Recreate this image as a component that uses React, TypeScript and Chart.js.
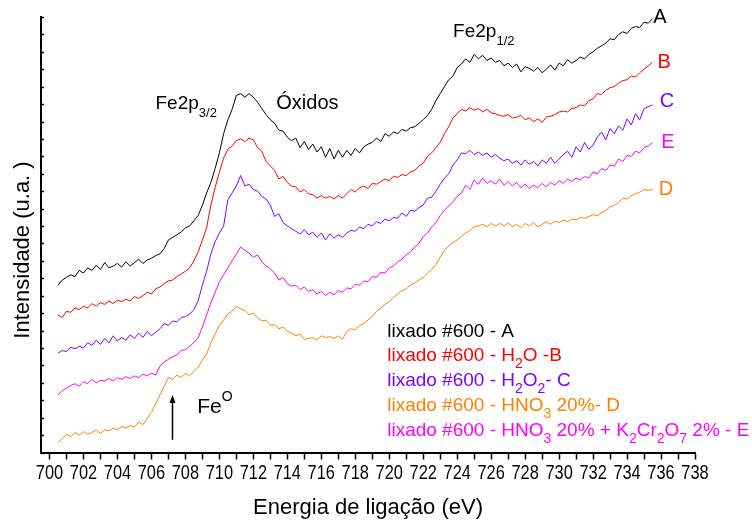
import React, { useEffect, useRef } from 'react';
import { Chart, registerables } from 'chart.js';

Chart.register(...registerables);

// Binding energy grid (eV)
const ENERGY = [
  700.5, 700.75, 701, 701.25,
  701.5, 701.75, 702, 702.25,
  702.5, 702.75, 703, 703.25,
  703.5, 703.75, 704, 704.25,
  704.5, 704.75, 705, 705.25,
  705.5, 705.75, 706, 706.25,
  706.5, 706.75, 707, 707.25,
  707.5, 707.75, 708, 708.25,
  708.5, 708.75, 709, 709.25,
  709.5, 709.75, 710, 710.25,
  710.5, 710.75, 711, 711.25,
  711.5, 711.75, 712, 712.25,
  712.5, 712.75, 713, 713.25,
  713.5, 713.75, 714, 714.25,
  714.5, 714.75, 715, 715.25,
  715.5, 715.75, 716, 716.25,
  716.5, 716.75, 717, 717.25,
  717.5, 717.75, 718, 718.25,
  718.5, 718.75, 719, 719.25,
  719.5, 719.75, 720, 720.25,
  720.5, 720.75, 721, 721.25,
  721.5, 721.75, 722, 722.25,
  722.5, 722.75, 723, 723.25,
  723.5, 723.75, 724, 724.25,
  724.5, 724.75, 725, 725.25,
  725.5, 725.75, 726, 726.25,
  726.5, 726.75, 727, 727.25,
  727.5, 727.75, 728, 728.25,
  728.5, 728.75, 729, 729.25,
  729.5, 729.75, 730, 730.25,
  730.5, 730.75, 731, 731.25,
  731.5, 731.75, 732, 732.25,
  732.5, 732.75, 733, 733.25,
  733.5, 733.75, 734, 734.25,
  734.5, 734.75, 735, 735.25,
  735.5,
];

// A: lixado #600
const SERIES_A = [
  9.6, 9.9, 10.05, 10.2,
  10.1, 10.45, 10.3, 10.6,
  10.45, 10.75, 10.5, 10.9,
  10.6, 10.7, 10.85, 10.65,
  10.95, 10.7, 10.9, 11.1,
  10.85, 11.05, 11.15, 11.3,
  11.4, 11.7, 12.2, 12.35,
  12.5, 12.65, 12.9, 13.0,
  13.3, 13.6, 14.2, 14.9,
  15.5, 16.3, 17.2, 18.3,
  19.1, 19.7, 20.5, 20.6,
  20.4, 20.6, 20.4, 20.1,
  19.75, 19.4, 19.1, 18.9,
  18.5, 18.45, 18.1, 17.9,
  18.05, 17.5, 17.85, 17.4,
  17.7, 17.25, 17.55, 16.95,
  17.45, 16.85, 17.35, 16.95,
  17.35, 17.05, 17.45, 17.2,
  17.55, 17.7, 17.8, 18.05,
  17.85, 18.3, 18.15, 18.4,
  18.3, 18.55, 18.45, 18.65,
  18.7, 18.9, 19.1, 19.35,
  19.7, 20.2, 20.6, 21.0,
  21.4, 21.6, 22.1, 22.3,
  22.6, 22.4, 22.85, 22.6,
  22.8, 22.5, 22.65, 22.4,
  22.5, 22.2, 22.35, 22.1,
  22.3, 21.85, 22.15, 22.05,
  21.9, 22.1, 21.8, 22.0,
  22.25, 21.95, 22.35, 22.2,
  22.55, 22.35, 22.5, 22.7,
  22.6, 22.85, 23.0, 23.2,
  23.35, 23.5, 23.75, 23.7,
  24.0, 24.15, 24.05, 24.35,
  24.45, 24.4, 24.7, 24.65,
  24.9,
];

// B: lixado #600 - H2O
const SERIES_B = [
  7.9, 7.75, 8.1, 8.05,
  8.3, 8.2, 8.4, 8.3,
  8.55, 8.4, 8.6, 8.5,
  8.7, 8.55, 8.75, 8.65,
  8.8, 8.7, 8.95, 8.85,
  9.0, 9.2, 9.1, 9.4,
  9.5, 9.7, 9.85, 9.9,
  10.1, 10.25, 10.4, 10.6,
  11.0, 11.5, 12.2, 12.9,
  14.2, 15.2, 16.1, 16.9,
  17.4, 17.6, 17.9, 18.0,
  17.85, 18.05, 17.95, 17.5,
  17.3, 16.7, 16.45, 16.2,
  15.7, 15.85, 15.5, 15.3,
  15.25, 14.95, 15.1, 14.85,
  14.8, 14.6, 14.75, 14.6,
  14.7, 14.55, 14.75, 14.6,
  14.85, 15.1, 14.95, 15.2,
  15.3, 15.15, 15.45, 15.4,
  15.55, 15.7, 15.6, 15.85,
  15.8, 15.95, 15.9, 16.1,
  16.2, 16.45, 16.6, 17.0,
  17.2, 17.5, 17.8, 18.3,
  18.7, 19.2, 19.45, 19.7,
  19.6, 19.8, 19.65, 19.75,
  19.55, 19.7, 19.5, 19.45,
  19.35, 19.3, 19.4, 19.2,
  19.25, 19.35, 19.1, 19.2,
  19.0, 19.15, 18.95, 19.25,
  19.3, 19.4, 19.55, 19.6,
  19.55, 19.75, 19.8, 19.95,
  19.9, 20.2, 20.3, 20.6,
  20.55, 20.8, 20.95, 21.0,
  21.2, 21.35, 21.4, 21.6,
  21.55, 21.8, 22.0, 22.2,
  22.4,
];

// C: lixado #600 - H2O2
const SERIES_C = [
  5.7, 5.85, 5.8, 6.05,
  5.95, 6.1, 6.0, 6.3,
  6.15, 6.45, 6.2, 6.55,
  6.3, 6.7, 6.4, 6.6,
  6.45, 6.75, 6.55, 6.85,
  6.6, 6.95, 6.7, 6.9,
  7.1, 7.4, 7.3, 7.55,
  7.5, 7.75, 7.8, 7.95,
  8.2, 8.7, 9.6, 10.4,
  11.4, 12.1, 12.6, 13.0,
  14.5, 14.9, 15.3, 15.9,
  15.3, 15.4, 15.1, 15.0,
  14.7, 14.55, 14.2, 13.55,
  13.7, 13.2, 13.0, 12.85,
  12.7, 12.55, 12.8, 12.5,
  12.65, 12.35, 12.6, 12.2,
  12.55, 12.3, 12.5, 12.35,
  12.6, 12.75, 12.7, 12.95,
  12.85, 13.1, 13.0, 13.25,
  13.15, 13.4, 13.3, 13.5,
  13.45, 13.75, 13.55, 13.9,
  13.85, 14.05, 14.2, 14.6,
  14.65, 15.0, 15.4, 15.75,
  16.0, 16.5, 16.8, 17.2,
  17.15, 17.35, 17.1, 17.25,
  17.05, 17.2, 16.95, 17.1,
  16.9, 16.75, 16.85, 16.6,
  16.75, 16.5, 16.8, 16.55,
  16.7, 16.45, 16.8, 16.6,
  16.95, 16.6, 16.85, 17.1,
  17.3, 16.95, 17.55, 17.25,
  17.8, 17.4, 17.65, 18.1,
  18.4, 17.95, 18.6, 18.3,
  18.75, 18.5, 19.15, 18.8,
  19.45, 19.1, 19.75, 19.85,
  19.95,
];

// D: lixado #600 - HNO3 20%
const SERIES_D = [
  0.55, 0.8, 1.05, 0.9,
  1.15, 1.0, 1.2, 1.05,
  1.15, 1.3, 1.1, 1.3,
  1.25, 1.4, 1.3, 1.5,
  1.4, 1.55, 1.45, 1.75,
  1.6, 1.95, 2.3, 2.8,
  3.3, 3.8, 4.3, 4.2,
  4.45, 4.3, 4.55, 4.4,
  4.65, 4.9, 5.3, 5.65,
  6.3, 6.8, 7.3, 7.6,
  7.95, 8.1, 8.4, 8.25,
  8.15, 7.9, 8.0, 7.75,
  7.55, 7.6, 7.3, 7.35,
  7.1, 7.2, 6.95, 6.85,
  6.7, 6.8, 6.5, 6.55,
  6.6, 6.45, 6.7, 6.6,
  6.65, 6.55, 6.7, 6.5,
  6.95, 7.1, 7.05, 7.3,
  7.4, 7.6, 7.8, 8.1,
  8.3, 8.5, 8.65, 8.9,
  9.1, 9.3, 9.4, 9.6,
  9.75, 9.9, 10.05, 10.3,
  10.5, 10.8, 11.2, 11.6,
  11.85, 12.05, 12.2, 12.4,
  12.6, 12.75, 12.95, 13.0,
  13.1, 12.95, 13.15, 13.0,
  13.15, 13.0, 13.2, 12.95,
  13.1, 12.9, 13.15, 13.0,
  13.2, 12.95, 13.1, 13.25,
  13.1, 13.3, 13.2, 13.35,
  13.25, 13.4, 13.35, 13.5,
  13.45, 13.55, 13.65, 13.6,
  13.75, 13.9, 14.1, 14.2,
  14.35, 14.6, 14.55, 14.75,
  14.85, 14.95, 15.1, 15.05,
  15.1,
];

// E: lixado #600 - HNO3 20% + K2Cr2O7 2%
const SERIES_E = [
  3.3, 3.55, 3.7, 3.85,
  3.95, 3.8, 4.05, 3.95,
  4.2, 4.0, 4.15, 4.1,
  4.25, 4.1, 4.3, 4.2,
  4.35, 4.25, 4.4, 4.3,
  4.5, 4.4, 4.55, 4.45,
  4.95, 5.2, 5.35, 5.5,
  5.6, 5.85, 5.9, 6.1,
  6.3, 6.6, 7.2, 7.9,
  8.6, 9.2, 9.8, 10.2,
  10.6, 11.0, 11.4, 11.8,
  11.6, 11.45, 11.2, 11.35,
  10.95, 10.7, 10.55, 10.3,
  9.9, 10.05, 9.7, 9.55,
  9.6, 9.35, 9.5, 9.25,
  9.35, 9.1, 9.25, 9.0,
  9.2, 9.05, 9.3, 9.2,
  9.45, 9.4, 9.65, 9.6,
  9.85, 9.8, 10.1, 10.05,
  10.35, 10.3, 10.6, 10.7,
  10.95, 11.1, 11.35, 11.5,
  11.8, 12.0, 12.4, 12.6,
  12.95, 13.2, 13.6, 13.9,
  14.15, 14.4, 14.7, 14.9,
  15.35, 15.1, 15.65, 15.4,
  15.75, 15.45, 15.6, 15.4,
  15.7, 15.35, 15.55, 15.3,
  15.5, 15.2, 15.4, 15.15,
  15.35, 15.2, 15.45, 15.25,
  15.5, 15.35, 15.6, 15.45,
  15.7, 15.55, 15.75, 15.65,
  15.85, 15.75, 16.1, 16.0,
  16.3, 16.2, 16.5, 16.45,
  16.85, 16.7, 17.05, 17.0,
  17.3, 17.2, 17.5, 17.6,
  17.8,
];

const X_TICKS = [
  700, 701, 702, 703, 704, 705, 706, 707, 708, 709, 710, 711, 712, 713, 714, 715, 716, 717, 718, 719,
  720, 721, 722, 723, 724, 725, 726, 727, 728, 729, 730, 731, 732, 733, 734, 735, 736, 737, 738,
];
const X_TICK_LABELS = [
  '700', '702', '704', '706', '708', '710', '712', '714', '716', '718',
  '720', '722', '724', '726', '728', '730', '732', '734', '736', '738',
];
const Y_TICKS = [0, 1, 2, 3, 4, 5, 6, 7, 8, 9, 10, 11, 12, 13, 14, 15, 16, 17, 18, 19, 20, 21, 22, 23, 24, 25];

const SERIES_NAMES = ['A', 'B', 'C', 'E', 'D'];
const SERIES_COLORS = ['#000000', '#ff0000', '#8000ff', '#ff00ff', '#ff8000'];
const SERIES_VALUES = [SERIES_A, SERIES_B, SERIES_C, SERIES_E, SERIES_D];

const X_TITLE = 'Energia de ligação (eV)';
const Y_TITLE = 'Intensidade (u.a. )';

type Seg = { t: string; sub?: boolean; sup?: boolean };

const LEGEND_LINES: { color: string; segs: Seg[] }[] = [
  { color: '#000000', segs: [{ t: 'lixado #600 - A' }] },
  { color: '#ff0000', segs: [{ t: 'lixado #600 - H' }, { t: '2', sub: true }, { t: 'O -B' }] },
  { color: '#8000ff', segs: [{ t: 'lixado #600 - H' }, { t: '2', sub: true }, { t: 'O' }, { t: '2', sub: true }, { t: '- C' }] },
  { color: '#ff8000', segs: [{ t: 'lixado #600 - HNO' }, { t: '3', sub: true }, { t: ' 20%- D' }] },
  {
    color: '#ff00ff',
    segs: [
      { t: 'lixado #600 - HNO' }, { t: '3', sub: true }, { t: ' 20% + K' }, { t: '2', sub: true },
      { t: 'Cr' }, { t: '2', sub: true }, { t: 'O' }, { t: '7', sub: true }, { t: ' 2% - E' },
    ],
  },
];

const FONT = "'Liberation Sans', Arial, sans-serif";

function drawRich(ctx: CanvasRenderingContext2D, x: number, y: number, segs: Seg[], size: number, subSize: number, color: string) {
  let cx = x;
  ctx.fillStyle = color;
  ctx.textBaseline = 'alphabetic';
  ctx.textAlign = 'left';
  for (const s of segs) {
    const fs = s.sub || s.sup ? subSize : size;
    ctx.font = `${fs}px ${FONT}`;
    const dy = s.sub ? size * 0.38 : s.sup ? -size * 0.55 : 0;
    ctx.fillText(s.t, cx, y + dy);
    cx += ctx.measureText(s.t).width;
  }
}

const annotationPlugin = {
  id: 'xpsAnnotations',
  afterDraw(chart: any) {
    const ctx: CanvasRenderingContext2D = chart.ctx;
    const xs = chart.scales.x;
    const ys = chart.scales.y;
    const area = chart.chartArea;
    const px = (v: number) => xs.getPixelForValue(v);
    const py = (v: number) => ys.getPixelForValue(v);
    ctx.save();

    // inward y ticks
    ctx.strokeStyle = '#000';
    ctx.lineWidth = 1.5;
    for (const v of Y_TICKS) {
      const y = Math.round(py(v)) + 0.5;
      ctx.beginPath();
      ctx.moveTo(area.left, y);
      ctx.lineTo(area.left + 3, y);
      ctx.stroke();
    }

    // x tick labels (condensed, like the original)
    ctx.fillStyle = '#000';
    ctx.font = `21px ${FONT}`;
    ctx.textAlign = 'center';
    ctx.textBaseline = 'middle';
    X_TICK_LABELS.forEach((lab) => {
      ctx.save();
      ctx.translate(px(Number(lab)), 473);
      ctx.scale(0.78, 1);
      ctx.fillText(lab, 0, 0);
      ctx.restore();
    });

    // axis titles
    ctx.font = `22px ${FONT}`;
    ctx.textAlign = 'center';
    ctx.textBaseline = 'middle';
    ctx.fillText(X_TITLE, (area.left + area.right) / 2, 508);
    ctx.save();
    ctx.translate(23, 250);
    ctx.rotate(-Math.PI / 2);
    ctx.fillText(Y_TITLE, 0, 0);
    ctx.restore();

    // series letters at right end
    const letterPos: [number, number][] = [
      [735.94, 25.0],
      [736.18, 22.4],
      [736.35, 20.15],
      [736.41, 17.8],
      [736.29, 15.1],
    ];
    ctx.font = `20px ${FONT}`;
    ctx.textAlign = 'center';
    ctx.textBaseline = 'middle';
    SERIES_NAMES.forEach((n, i) => {
      ctx.fillStyle = SERIES_COLORS[i];
      ctx.fillText(n, px(letterPos[i][0]), py(letterPos[i][1]));
    });

    // peak labels
    drawRich(ctx, px(706.24), py(19.7), [{ t: 'Fe2p' }, { t: '3/2', sub: true }], 19, 13, '#000');
    ctx.font = `20px ${FONT}`;
    ctx.fillStyle = '#000';
    ctx.textAlign = 'left';
    ctx.textBaseline = 'alphabetic';
    ctx.fillText('Óxidos', px(713.35), py(19.7));
    drawRich(ctx, px(723.76), py(23.83), [{ t: 'Fe2p' }, { t: '1/2', sub: true }], 19, 13, '#000');
    drawRich(ctx, px(708.7), py(2.28), [{ t: 'Fe' }, { t: 'O', sup: true }], 21, 14, '#000');

    // arrow
    const ax = Math.round(px(707.24)) + 0.5;
    const yTop = py(3.3);
    const yBot = py(0.73);
    ctx.strokeStyle = '#000';
    ctx.lineWidth = 1.5;
    ctx.beginPath();
    ctx.moveTo(ax, yBot);
    ctx.lineTo(ax, yTop + 5);
    ctx.stroke();
    ctx.fillStyle = '#000';
    ctx.beginPath();
    ctx.moveTo(ax, yTop);
    ctx.lineTo(ax - 3, yTop + 8);
    ctx.lineTo(ax + 3, yTop + 8);
    ctx.closePath();
    ctx.fill();

    // legend block
    const legendBase = [6.64, 5.27, 3.83, 2.40, 0.96];
    LEGEND_LINES.forEach((l, i) => {
      drawRich(ctx, px(719.88), py(legendBase[i]), l.segs, 19, 14, l.color);
    });

    ctx.restore();
  },
};

export default function App() {
  const ref = useRef<HTMLCanvasElement | null>(null);

  useEffect(() => {
    if (!ref.current) return;
    const chart = new Chart(ref.current, {
      type: 'line',
      data: {
        datasets: SERIES_VALUES.map((vals, i) => ({
          label: SERIES_NAMES[i],
          data: ENERGY.map((e, k) => ({ x: e, y: vals[k] })),
          borderColor: SERIES_COLORS[i],
          backgroundColor: SERIES_COLORS[i],
          borderWidth: 1,
          pointRadius: 0,
          tension: 0,
          fill: false,
        })),
      },
      options: {
        animation: false,
        responsive: false,
        events: [],
        layout: { padding: { left: 0, right: 57, top: 17, bottom: 0 } },
        plugins: { legend: { display: false }, tooltip: { enabled: false }, title: { display: false } },
        scales: {
          x: {
            type: 'linear',
            min: 699.5,
            max: 738,
            afterBuildTicks: (s: any) => {
              s.ticks = X_TICKS.map((v) => ({ value: v }));
            },
            afterFit: (s: any) => {
              s.height = 71.5;
            },
            grid: { drawOnChartArea: false, drawTicks: true, tickLength: 7, tickColor: '#000', tickWidth: 1.5 },
            border: { display: true, color: '#000', width: 2 },
            ticks: { display: false },
          },
          y: {
            type: 'linear',
            min: 0,
            max: 25,
            afterBuildTicks: (s: any) => {
              s.ticks = Y_TICKS.map((v) => ({ value: v }));
            },
            afterFit: (s: any) => {
              s.width = 41;
            },
            grid: { drawOnChartArea: false, drawTicks: false },
            border: { display: true, color: '#000', width: 2 },
            ticks: { display: false },
          },
        },
      },
      plugins: [annotationPlugin],
    } as any);
    return () => chart.destroy();
  }, []);

  return (
    <div style={{ position: 'fixed', left: 0, top: 0, width: 752, height: 524, background: '#fff' }}>
      <canvas ref={ref} width={752} height={524} style={{ width: 752, height: 524, display: 'block' }} />
    </div>
  );
}
